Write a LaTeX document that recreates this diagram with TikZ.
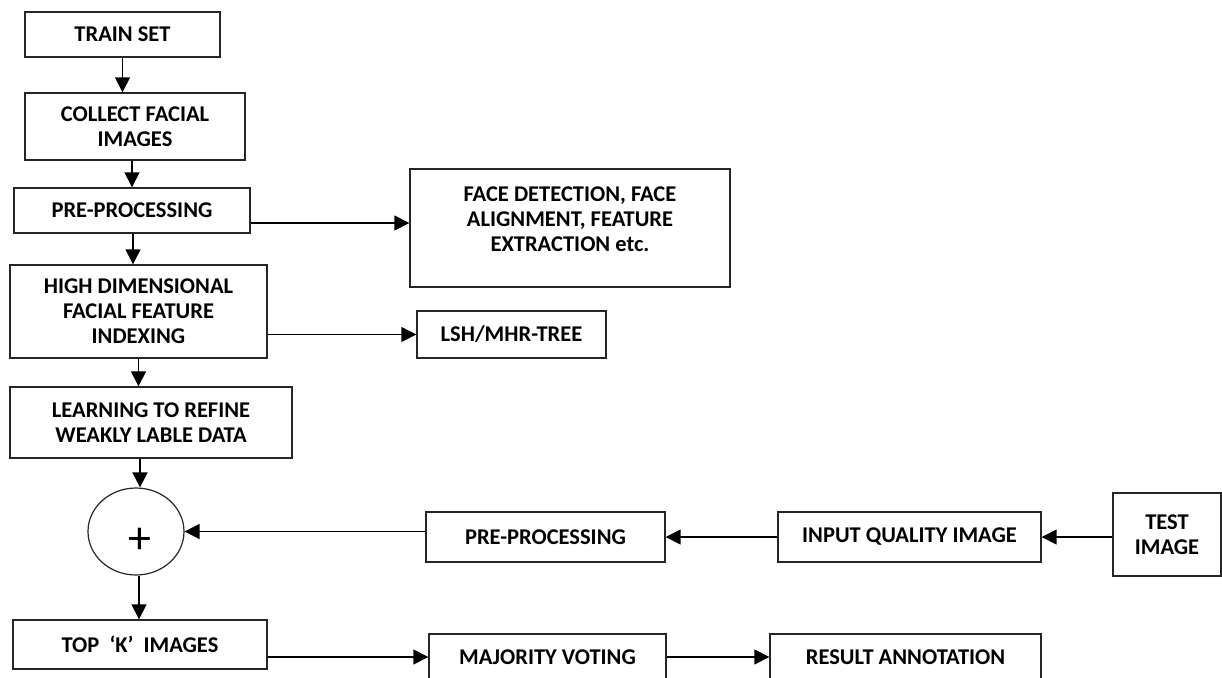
\documentclass[tikz,border=0pt]{standalone}
\usepackage{fontspec}
\setmainfont{Carlito}
\usetikzlibrary{arrows.meta,shapes.geometric}
\begin{document}
\begin{tikzpicture}[x=1pt,y=-1pt,
  txt/.style={font=\fontsize{22.5}{25}\selectfont\bfseries},
  box/.style={draw=black!85,line width=1.4pt,rectangle,inner sep=0pt,align=center,txt},
  conn/.style={line width=1.5pt,-{Triangle[length=15pt,width=15pt]}},
  line cap=butt]
\clip (0,0) rectangle (1222,677);
\fill[white] (0,0) rectangle (1222,677);
% left column
\node[box,minimum width=195pt,minimum height=45pt] (train) at (122.5,34.5) {TRAIN SET};
\node[box,minimum width=220pt,minimum height=67pt] (collect) at (135,126.5) {COLLECT FACIAL\\IMAGES};
\node[box,minimum width=236pt,minimum height=45pt] (pre1) at (132,210.5) {PRE-PROCESSING};
\node[box,minimum width=257pt,minimum height=93pt] (high) at (138.5,311.5) {HIGH DIMENSIONAL\\FACIAL FEATURE\\INDEXING};
\node[box,minimum width=282pt,minimum height=71pt] (learn) at (151,422.5) {LEARNING TO REFINE\\WEAKLY LABLE DATA};
\node[draw=black!85,line width=1.2pt,ellipse,minimum width=96pt,minimum height=87pt,inner sep=0pt,
  label={[font=\fontsize{46}{46}\selectfont,xshift=4pt,yshift=-9pt]center:+}] (sum) at (136,531.5) {};
\node[box,minimum width=254pt,minimum height=49pt] (topk) at (140,644.5) {TOP\ \ ‘K’\ \ IMAGES};
% right side
\node[box,minimum width=320pt,minimum height=118pt,
  label={[txt,align=center,yshift=9pt]center:FACE DETECTION, FACE\\ALIGNMENT, FEATURE\\EXTRACTION etc.}] (face) at (570,228) {};
\node[box,minimum width=189pt,minimum height=47pt] (lsh) at (511.5,334.5) {LSH/MHR-TREE};
\node[box,minimum width=239pt,minimum height=50pt] (pre2) at (545.5,537) {PRE-PROCESSING};
\node[box,minimum width=263pt,minimum height=50pt] (input) at (909.5,537) {INPUT QUALITY IMAGE};
\node[box,minimum width=108pt,minimum height=83pt] (test) at (1167,534.5) {TEST\\IMAGE};
\node[box,minimum width=237pt,minimum height=46pt] (maj) at (547.5,657) {MAJORITY VOTING};
\node[box,minimum width=271pt,minimum height=46pt] (res) at (905.5,657) {RESULT ANNOTATION};
% connectors
\draw[conn] (train.south) -- (train.south |- collect.north);
\draw[conn] ([xshift=-3pt]collect.south) -- ([xshift=-3pt]collect.south |- pre1.north);
\draw[conn] ([xshift=1pt]pre1.south) -- ([xshift=1pt]pre1.south |- high.north);
\draw[conn] (high.south) -- (high.south |- learn.north);
\draw[conn] ([xshift=-11pt]learn.south) -- ([xshift=-11pt]learn.south |- sum.north);
\draw[conn] ([xshift=3pt]sum.south) -- ([xshift=3pt]sum.south |- topk.north);
\draw[conn] ([yshift=-12.5pt]pre1.east) -- ([yshift=-12.5pt]pre1.east -| face.west);
\draw[conn] (high.east |- lsh.west) -- (lsh.west);
\draw[conn] (pre2.west |- sum.east) -- (sum.east);
\draw[conn] (input.west) -- (pre2.east);
\draw[conn] (test.west |- input.east) -- (input.east);
\draw[conn] (topk.east |- maj.west) -- (maj.west);
\draw[conn] (maj.east) -- (res.west);
\end{tikzpicture}
\end{document}
